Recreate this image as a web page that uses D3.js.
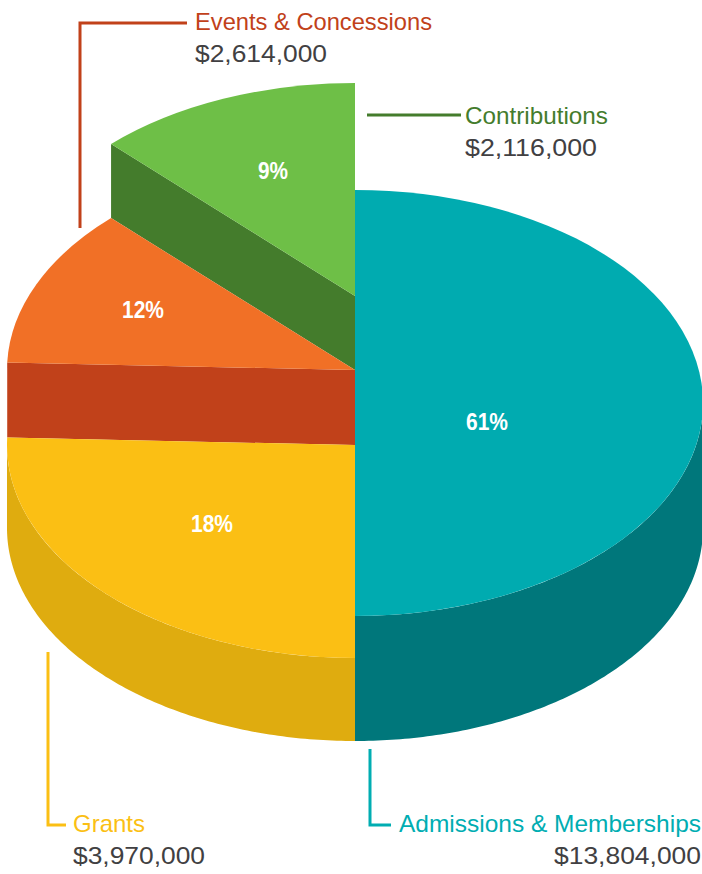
<!DOCTYPE html>
<html lang="en">
<head>
<meta charset="UTF-8">
<title>Revenue pie</title>
<script src="https://d3js.org/d3.v7.min.js"></script>
<style>
  html, body { margin: 0; padding: 0; background: #fff; }
  svg { display: block; }
  text { font-family: "Liberation Sans", sans-serif; }
</style>
</head>
<body>
<div id="chart"></div>
<script>
// values as printed on the chart, clockwise from 12 o'clock
const categories = ["Admissions & Memberships", "Grants", "Events & Concessions", "Contributions"];
const amounts = [13804000, 3970000, 2614000, 2116000];
const percents = [61, 18, 12, 9];
// the drawing doesn't follow the percents, so these are the slice sizes (degrees)
const drawnDegrees = [180, 92, 43.5, 44.5];

const topColors = ["#00abb0", "#fbbf14", "#f17026", "#6ebf47"];
const sideColors = ["#00777b", "#dfac0f", "#c1411a", "#447c2c"];
const labelColors = ["#00adb2", "#fbbf14", "#c1411a", "#447c2c"];

// each slice sits at its own height
const centerY = [403, 445, 370, 296];
const depth = [125, 83, 75, 74];

const width = 702, height = 874;
const cx = 355, rx = 348, ry = 213;

const svg = d3.select("#chart").append("svg")
  .attr("width", width)
  .attr("height", height);

const slices = d3.pie().sort(null).value(d => d)(drawnDegrees);

const x = d3.scaleLinear().domain([0, 1]).range([cx, cx + rx]);
const y = d3.scaleLinear().domain([0, 1]).range([0, -ry]);

const unitArc = d3.arc().innerRadius(0).outerRadius(rx);

// point at radius r (0..1) and angle a, clockwise from the top
const px = (r, a) => x(r * Math.sin(a));
const py = (r, a, i) => centerY[i] + y(r * Math.cos(a));

// outside wall and cut faces are both bands hanging down from the top surface
function band(points, i) {
  return d3.area()
    .x(p => px(p[0], p[1]))
    .y0(p => py(p[0], p[1], i))
    .y1(p => py(p[0], p[1], i) + depth[i])(points);
}

// back to front
const order = [0, 3, 2, 1];

order.forEach(i => {
  const s = slices[i];
  const g = svg.append("g");

  // wall along the rim, only where the rim faces the viewer
  const a0 = Math.max(s.startAngle, Math.PI / 2);
  const a1 = Math.min(s.endAngle, Math.PI * 1.5);
  if (a1 > a0) {
    const rim = d3.range(0, 121).map(k => [1, a0 + (a1 - a0) * k / 120]);
    g.append("path").attr("d", band(rim, i)).attr("fill", sideColors[i]);
  }

  // cut face on the slice's start edge when it points at the viewer
  if (i === 2 || i === 3) {
    g.append("path")
      .attr("d", band([[0, s.startAngle], [1, s.startAngle]], i))
      .attr("fill", sideColors[i]);
  }

  g.append("path")
    .attr("d", unitArc(s))
    .attr("transform", `translate(${cx},${centerY[i]}) scale(1,${ry / rx})`)
    .attr("fill", topColors[i]);
});

// percent labels, squeezed a bit since the original face is narrower
const pctPos = [[487, 421], [212, 523], [143, 309], [273, 170]];
const pctWidth = [42, 42, 42, 30];
svg.selectAll("text.pct")
  .data(percents)
  .join("text")
  .attr("class", "pct")
  .attr("x", (d, i) => pctPos[i][0])
  .attr("y", (d, i) => pctPos[i][1] + 8.5)
  .attr("text-anchor", "middle")
  .attr("fill", "#fff")
  .attr("textLength", (d, i) => pctWidth[i])
  .attr("lengthAdjust", "spacingAndGlyphs")
  .style("font-size", "24px")
  .style("font-weight", "bold")
  .text(d => d + "%");

// leader lines
const leaders = [
  [[370, 749], [370, 825], [391, 825]],
  [[48, 652], [48, 825], [66, 825]],
  [[80, 228], [80, 23], [187, 23]],
  [[367, 115], [461, 115]]
];
const line = d3.line();
svg.selectAll("path.leader")
  .data(leaders)
  .join("path")
  .attr("class", "leader")
  .attr("d", d => line(d))
  .attr("fill", "none")
  .attr("stroke", (d, i) => labelColors[i])
  .attr("stroke-width", 3);

// category and amount labels, widths measured so the runs end where the original's do
const labelPos = [
  {x: 701, y: 832, anchor: "end"},
  {x: 73, y: 832, anchor: "start"},
  {x: 195, y: 30, anchor: "start"},
  {x: 465, y: 124, anchor: "start"}
];
const nameWidth = [302, 72, 237, 143];
const amountWidth = [147, 132, 132, 132];
const money = d3.format("$,");

categories.forEach((c, i) => {
  const p = labelPos[i];
  svg.append("text")
    .attr("x", p.x).attr("y", p.y)
    .attr("text-anchor", p.anchor)
    .attr("fill", labelColors[i])
    .attr("textLength", nameWidth[i])
    .attr("lengthAdjust", "spacingAndGlyphs")
    .style("font-size", "24px")
    .text(c);
  svg.append("text")
    .attr("x", p.x).attr("y", p.y + 32)
    .attr("text-anchor", p.anchor)
    .attr("fill", "#414042")
    .attr("textLength", amountWidth[i])
    .attr("lengthAdjust", "spacingAndGlyphs")
    .style("font-size", "24px")
    .text(money(amounts[i]));
});
</script>
</body>
</html>
